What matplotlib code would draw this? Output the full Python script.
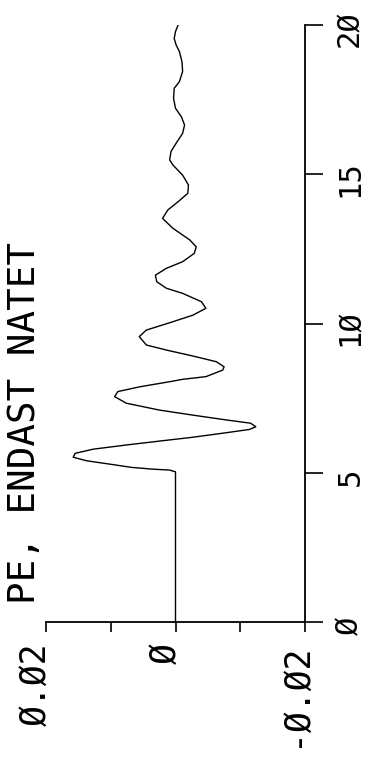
import numpy as np
import matplotlib
matplotlib.use("Agg")
import matplotlib.pyplot as plt
from matplotlib.transforms import ScaledTranslation

# tid (horisontell axel i originalet, vertikal i bilden)
t = [0.0, 5.03, 5.09, 5.12, 5.18, 5.29, 5.40, 5.52, 5.65, 5.79, 5.93, 6.06,
     6.19, 6.34, 6.45, 6.54, 6.66, 6.77, 6.93, 7.10, 7.33, 7.55, 7.72, 7.88,
     8.05, 8.13, 8.22, 8.44, 8.55, 8.72, 8.91, 9.11, 9.28, 9.56, 9.78, 10.06,
     10.28, 10.51, 10.73, 11.01, 11.18, 11.40, 11.62, 11.85, 12.07, 12.35,
     12.57, 12.80, 13.19, 13.52, 13.80, 14.08, 14.36, 14.64, 14.97, 15.31,
     15.48, 15.76, 16.04, 16.37, 16.65, 16.93, 17.21, 17.54, 17.88, 18.10,
     18.44, 18.77, 19.11, 19.33, 19.55, 19.78, 20.0]
# amplitud
v = [0.0, 0.0, 0.0009, 0.0035, 0.0068, 0.0102, 0.0137, 0.0158, 0.0155,
     0.0127, 0.0076, 0.0025, -0.0027, -0.0078, -0.0114, -0.0124, -0.0116,
     -0.0078, -0.0027, 0.0025, 0.0076, 0.0094, 0.0089, 0.0055, 0.0009,
     -0.0011, -0.0047, -0.0073, -0.0075, -0.0063, -0.0027, 0.0014, 0.0045,
     0.0056, 0.0045, 0.0004, -0.0027, -0.0047, -0.0040, -0.0011, 0.0014,
     0.0029, 0.0031, 0.0014, -0.0011, -0.0029, -0.0032, -0.0022, 0.0004,
     0.0020, 0.0012, -0.0004, -0.0019, -0.0020, -0.0011, 0.0004, 0.0009,
     0.0007, -0.0001, -0.0011, -0.0014, -0.0009, 0.0, 0.0003, 0.0002,
     -0.0006, -0.0011, -0.0010, -0.0006, -0.0001, 0.0002, 0.0, -0.0004]

amp_ticks = [0.02, 0.01, 0.0, -0.01, -0.02]
amp_labels = ['Ø.Ø2', '', 'Ø', '', '-Ø.Ø2']
t_ticks = [0, 5, 10, 15, 20]
t_labels = ['Ø', '5', '1Ø', '15', '2Ø']
title = 'PE, ENDAST NATET'

plt.rcParams['font.family'] = ['DejaVu Sans Mono', 'DejaVu Sans']

W, H = 374, 776
fig = plt.figure(figsize=(W / 100, H / 100), dpi=100)
ax = fig.add_axes([46 / W, (H - 622) / H, (305 - 46) / W, (622 - 25) / H])

ax.plot(v, t, color='black', lw=1.0)
ax.set_xlim(0.02, -0.02)
ax.set_ylim(0, 20)

for s in ['left', 'top']:
    ax.spines[s].set_visible(False)
for s in ['bottom', 'right']:
    ax.spines[s].set_linewidth(1.3)

ax.set_xticks(amp_ticks)
ax.set_xticklabels(amp_labels, rotation=90, ha='right', va='top', fontsize=25)
ax.tick_params(axis='x', direction='out', length=7, width=1.2, pad=8)

ax.yaxis.tick_right()
ax.set_yticks(t_ticks)
ax.set_yticklabels(t_labels, rotation=90, ha='left', va='center', fontsize=22)
ax.tick_params(axis='y', direction='out', length=13, width=1.2, pad=9)

for lab in ax.get_xticklabels():
    lab.set_transform(lab.get_transform() + ScaledTranslation(7 / 100, 0, fig.dpi_scale_trans))
for lab in ax.get_yticklabels():
    lab.set_transform(lab.get_transform() + ScaledTranslation(0, -4 / 100, fig.dpi_scale_trans))

fig.text(25 / W, (H - 604) / H, title, rotation=90, ha='center', va='bottom',
         fontsize=27)

fig.savefig('out.png', dpi=100)
